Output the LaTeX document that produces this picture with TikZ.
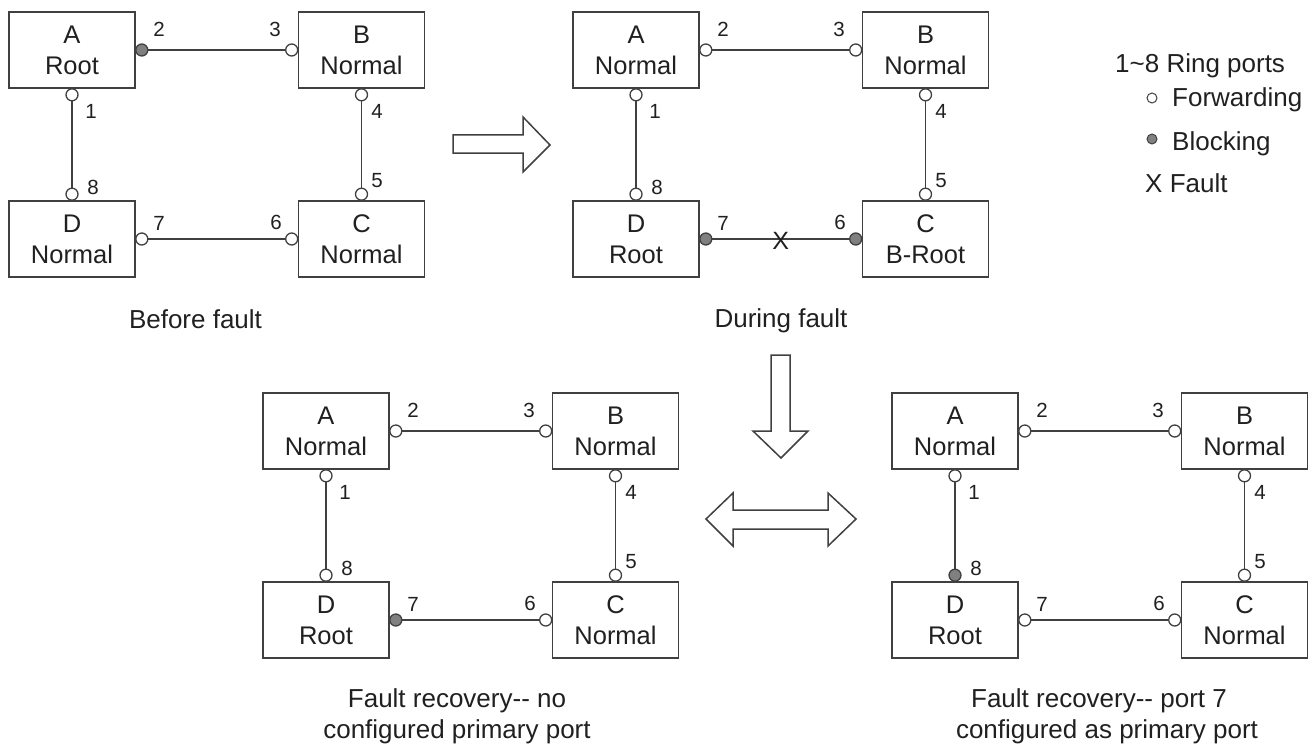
\documentclass[tikz,border=0pt]{standalone}
\usepackage{fontspec}
\setmainfont{Liberation Sans}
\usetikzlibrary{calc}
\definecolor{linec}{HTML}{404040}
\definecolor{txt}{HTML}{202020}
\tikzset{
  box/.style={draw=linec, line width=1.6pt, minimum width=126pt, minimum height=76pt,
    inner sep=0pt, align=center, font=\fontsize{25.5}{31}\selectfont, text=txt},
  port/.style={circle, draw=linec, line width=1.3pt, minimum size=12pt, inner sep=0pt},
  fwd/.style={port, fill=white},
  blk/.style={port, fill=black!50},
  p1/.style=fwd, p2/.style=fwd, p3/.style=fwd, p4/.style=fwd,
  p5/.style=fwd, p6/.style=fwd, p7/.style=fwd, p8/.style=fwd,
  link/.style={draw=linec, line width=1.6pt},
  num/.style={font=\fontsize{20.5}{20}\selectfont, text=txt, inner sep=0pt},
  captext/.style={font=\fontsize{26}{32}\selectfont, text=txt, inner sep=0pt, anchor=base},
  legtext/.style={font=\fontsize{26}{32}\selectfont, text=txt, inner sep=0pt, anchor=base west},
  bigarrow/.style={draw=linec, line width=1.5pt, fill=white, line join=miter},
}
% #1 prefix, #2 A state, #3 B state, #4 C state, #5 D state
\newcommand\ringdiag[5]{%
  \node[box] (#1A) at (72,50) {A\\#2};
  \node[box] (#1B) at (361.5,50) {B\\#3};
  \node[box] (#1D) at (72,239) {D\\#5};
  \node[box] (#1C) at (361.5,239) {C\\#4};
  \node[p2] (#1p2) at ([xshift=6pt]#1A.east) {};
  \node[p3] (#1p3) at ([xshift=-6pt]#1B.west) {};
  \node[p1] (#1p1) at ([yshift=-6pt]#1A.south) {};
  \node[p8] (#1p8) at ([yshift=6pt]#1D.north) {};
  \node[p4] (#1p4) at ([yshift=-6pt]#1B.south) {};
  \node[p5] (#1p5) at ([yshift=6pt]#1C.north) {};
  \node[p7] (#1p7) at ([xshift=6pt]#1D.east) {};
  \node[p6] (#1p6) at ([xshift=-6pt]#1C.west) {};
  \draw[link] (#1p2) -- (#1p3);
  \draw[link] (#1p1) -- (#1p8);
  \draw[link] (#1p4) -- (#1p5);
  \draw[link] (#1p7) -- (#1p6);
  \node[num] (#1n2) at (159,29) {2};
  \node[num] (#1n3) at (275,29) {3};
  \node[num] (#1n1) at (91,111) {1};
  \node[num] (#1n4) at (377,111) {4};
  \node[num] (#1n8) at (93,187) {8};
  \node[num] (#1n5) at (377,181) {5};
  \node[num] (#1n7) at (159,223) {7};
  \node[num] (#1n6) at (276,222) {6};
}
\begin{document}
\begin{tikzpicture}[x=1pt, y=-1pt]
\useasboundingbox (0,0) rectangle (1314,749);

% Before fault
\begin{scope}[p2/.style=blk]
  \ringdiag{R1}{Root}{Normal}{Normal}{Normal}
\end{scope}
% During fault
\begin{scope}[shift={(564,0)}, p7/.style=blk, p6/.style=blk]
  \ringdiag{R2}{Normal}{Normal}{B-Root}{Root}
\end{scope}
\node[font=\fontsize{25}{25}\selectfont, text=txt, inner sep=0pt] (fault) at ($(R2p7)!0.5!(R2p6)+(0,2)$) {X};
% Recovery, no primary port
\begin{scope}[shift={(254,381)}, p7/.style=blk]
  \ringdiag{R3}{Normal}{Normal}{Normal}{Root}
\end{scope}
% Recovery, port 7 primary
\begin{scope}[shift={(883,381)}, p8/.style=blk]
  \ringdiag{R4}{Normal}{Normal}{Normal}{Root}
\end{scope}

% captions
\node[captext] (c1) at (195.5,328) {Before fault};
\node[captext] (c2) at (781,327) {During fault};
\node[captext] (c3a) at (457,707) {Fault recovery{-}{-} no};
\node[captext] (c3b) at (457,738) {configured primary port};
\node[captext] (c4a) at (1099,707) {Fault recovery{-}{-} port 7};
\node[captext] (c4b) at (1107,738) {configured as primary port};

% legend
\node[legtext] (l0) at (1115,73) {1\textasciitilde 8 Ring ports};
\node[fwd, minimum size=10pt, line width=1pt] (lf) at (1152,98) {};
\node[legtext] (l1) at (1172,107) {Forwarding};
\node[blk, minimum size=10pt, line width=1pt] (lb) at (1152,139) {};
\node[legtext] (l2) at (1172,150) {Blocking};
\node[legtext] (l3) at (1145,192) {X Fault};

% block arrows
\draw[bigarrow] (453,135) -- (523,135) -- (523,117) -- (550,145) -- (523,172) -- (523,153) -- (453,153) -- cycle;
\draw[bigarrow] (771,355) -- (790,355) -- (790,431) -- (808,431) -- (781,458) -- (753,431) -- (771,431) -- cycle;
\draw[bigarrow] (706,519) -- (733,493) -- (733,510) -- (828,510) -- (828,493) -- (856,519) -- (828,546) -- (828,529) -- (733,529) -- (733,546) -- cycle;
\end{tikzpicture}
\end{document}
